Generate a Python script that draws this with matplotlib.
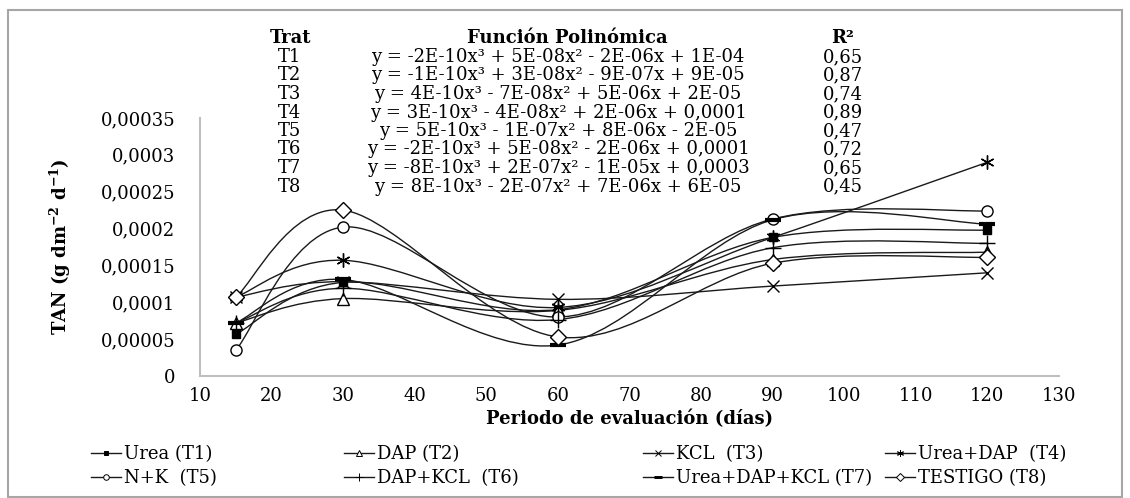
import matplotlib.pyplot as plt
import numpy as np
from matplotlib.path import Path
from matplotlib.patches import PathPatch, Rectangle
from matplotlib.lines import Line2D
from matplotlib.ticker import FuncFormatter

plt.rcParams['font.family'] = ['DejaVu Serif']
plt.rcParams['mathtext.fontset'] = 'dejavuserif'
plt.rcParams['mathtext.default'] = 'regular'

dias = [15, 30, 60, 90, 120]
t1 = [5.65e-5, 1.27e-4, 9.0e-5, 1.88e-4, 1.98e-4]
t2 = [7.2e-5, 1.05e-4, 8.9e-5, 1.58e-4, 1.68e-4]
t3 = [1.07e-4, 1.28e-4, 1.04e-4, 1.22e-4, 1.40e-4]
t4 = [1.07e-4, 1.57e-4, 9.3e-5, 1.88e-4, 2.90e-4]
t5 = [3.5e-5, 2.02e-4, 8.0e-5, 2.13e-4, 2.24e-4]
t6 = [7.2e-5, 1.19e-4, 7.65e-5, 1.74e-4, 1.80e-4]
t7 = [7.2e-5, 1.31e-4, 4.2e-5, 2.12e-4, 2.06e-4]
t8 = [1.07e-4, 2.25e-4, 5.3e-5, 1.53e-4, 1.61e-4]
series = [t1, t2, t3, t4, t5, t6, t7, t8]

labels = ["Urea (T1)", "DAP (T2)", "KCL  (T3)", "Urea+DAP  (T4)",
          "N+K  (T5)", "DAP+KCL  (T6)", "Urea+DAP+KCL (T7)", "TESTIGO (T8)"]

trat = ["T1", "T2", "T3", "T4", "T5", "T6", "T7", "T8"]
ecuaciones = [
    "y = -2E-10x³ + 5E-08x² - 2E-06x + 1E-04",
    "y = -1E-10x³ + 3E-08x² - 9E-07x + 9E-05",
    "y = 4E-10x³ - 7E-08x² + 5E-06x + 2E-05",
    "y = 3E-10x³ - 4E-08x² + 2E-06x + 0,0001",
    "y = 5E-10x³ - 1E-07x² + 8E-06x - 2E-05",
    "y = -2E-10x³ + 5E-08x² - 2E-06x + 0,0001",
    "y = -8E-10x³ + 2E-07x² - 1E-05x + 0,0003",
    "y = 8E-10x³ - 2E-07x² + 7E-06x + 6E-05",
]
r2 = ["0,65", "0,87", "0,74", "0,89", "0,47", "0,72", "0,65", "0,45"]

# marker styles per treatment
estilos = [
    dict(marker='s', ms=6, mfc='black'),
    dict(marker='^', ms=8, mfc='white'),
    dict(marker='x', ms=9, mfc='none'),
    dict(marker=(6, 2, 0), ms=10, mfc='none'),
    dict(marker='o', ms=8, mfc='white'),
    dict(marker='+', ms=12, mfc='none'),
    dict(marker='_', ms=11, mfc='none', mew=3),
    dict(marker='D', ms=8, mfc='white'),
]

FS = 13
W, H = 1130, 498
fig = plt.figure(figsize=(W / 100, H / 100), dpi=100)
fig.patches.append(Rectangle((8 / W, 0.002), 1114 / W, 1 - 10 / H - 0.002,
                             transform=fig.transFigure, fill=False,
                             ec='#a6a6a6', lw=1.5))

ax = fig.add_axes([200 / W, 1 - 376 / H, 859 / W, 258 / H])
ax.set_xlim(10, 130)
ax.set_ylim(0, 0.00035)


def smooth_path(xs, ys):
    # Excel-style smoothed line: cubic Bezier through the points,
    # control points from neighbours, computed in pixel space
    sx, sy = 7.155, 736000.0
    px = np.array(xs) * sx
    py = np.array(ys) * sy
    n = len(px)
    verts = [(px[0], py[0])]
    codes = [Path.MOVETO]
    for i in range(n - 1):
        i0 = max(i - 1, 0)
        i3 = min(i + 2, n - 1)
        c1 = (px[i] + (px[i + 1] - px[i0]) / 6, py[i] + (py[i + 1] - py[i0]) / 6)
        c2 = (px[i + 1] - (px[i3] - px[i]) / 6, py[i + 1] - (py[i3] - py[i]) / 6)
        verts += [c1, c2, (px[i + 1], py[i + 1])]
        codes += [Path.CURVE4] * 3
    verts = [(vx / sx, vy / sy) for vx, vy in verts]
    return Path(verts, codes)


for ys, st in zip(series, estilos):
    ax.add_patch(PathPatch(smooth_path(dias, ys), fc='none', ec='#1a1a1a', lw=1.0, zorder=2))
    ax.plot(dias, ys, ls='none', marker=st['marker'], ms=st['ms'], mfc=st['mfc'],
            mec='black', mew=st.get('mew', 1.0), zorder=3)

ax.set_xticks(np.arange(10, 131, 10))
ax.set_yticks(np.arange(0, 0.000351, 0.00005))


def fmt(v, pos):
    s = format(v, '.5f').rstrip('0').rstrip('.')
    return s.replace('.', ',')


ax.yaxis.set_major_formatter(FuncFormatter(fmt))
ax.tick_params(length=0, labelsize=FS)
ax.tick_params(axis='y', pad=18)
ax.tick_params(axis='x', pad=8)
for s in ['top', 'right']:
    ax.spines[s].set_visible(False)
for s in ['left', 'bottom']:
    ax.spines[s].set_color('#bfbfbf')
    ax.spines[s].set_linewidth(1.5)

ax.set_xlabel("Periodo de evaluación (días)", fontsize=FS, fontweight='bold', labelpad=3)
ax.set_ylabel(r"TAN (g dm$^{-2}$ d$^{-1}$)", fontsize=FS, fontweight='bold', labelpad=20)


def fx(x):
    return x / W


def fy(y):
    return 1 - y / H


# table with the fitted polynomials
fig.text(fx(290), fy(38), "Trat", ha='center', va='center', fontsize=FS, fontweight='bold')
fig.text(fx(567), fy(38), "Función Polinómica", ha='center', va='center', fontsize=FS, fontweight='bold')
fig.text(fx(843), fy(38), "R²", ha='center', va='center', fontsize=FS, fontweight='bold')
for i in range(len(trat)):
    yy = 57 + 18.5 * i
    fig.text(fx(290), fy(yy), trat[i], ha='center', va='center', fontsize=FS)
    fig.text(fx(558), fy(yy), ecuaciones[i], ha='center', va='center', fontsize=FS)
    fig.text(fx(843), fy(yy), r2[i], ha='center', va='center', fontsize=FS)

handles = []
for st, lab in zip(estilos, labels):
    handles.append(Line2D([], [], color='#1a1a1a', lw=1.0, marker=st['marker'],
                          ms=st['ms'] * 0.5, mfc=st['mfc'], mec='black',
                          mew=st.get('mew', 1.0) * 0.7, label=lab))

# one legend per column, rows: T1-T4 on top, T5-T8 below
col_x = [91, 344, 643, 885]
for c in range(4):
    fig.legend([handles[c], handles[c + 4]], [labels[c], labels[c + 4]],
               loc='center left', bbox_to_anchor=(fx(col_x[c]), fy(466)),
               frameon=False, fontsize=FS, handlelength=1.65, handletextpad=0.2,
               labelspacing=0.35, borderpad=0, borderaxespad=0)

fig.savefig("out.png", dpi=100)
